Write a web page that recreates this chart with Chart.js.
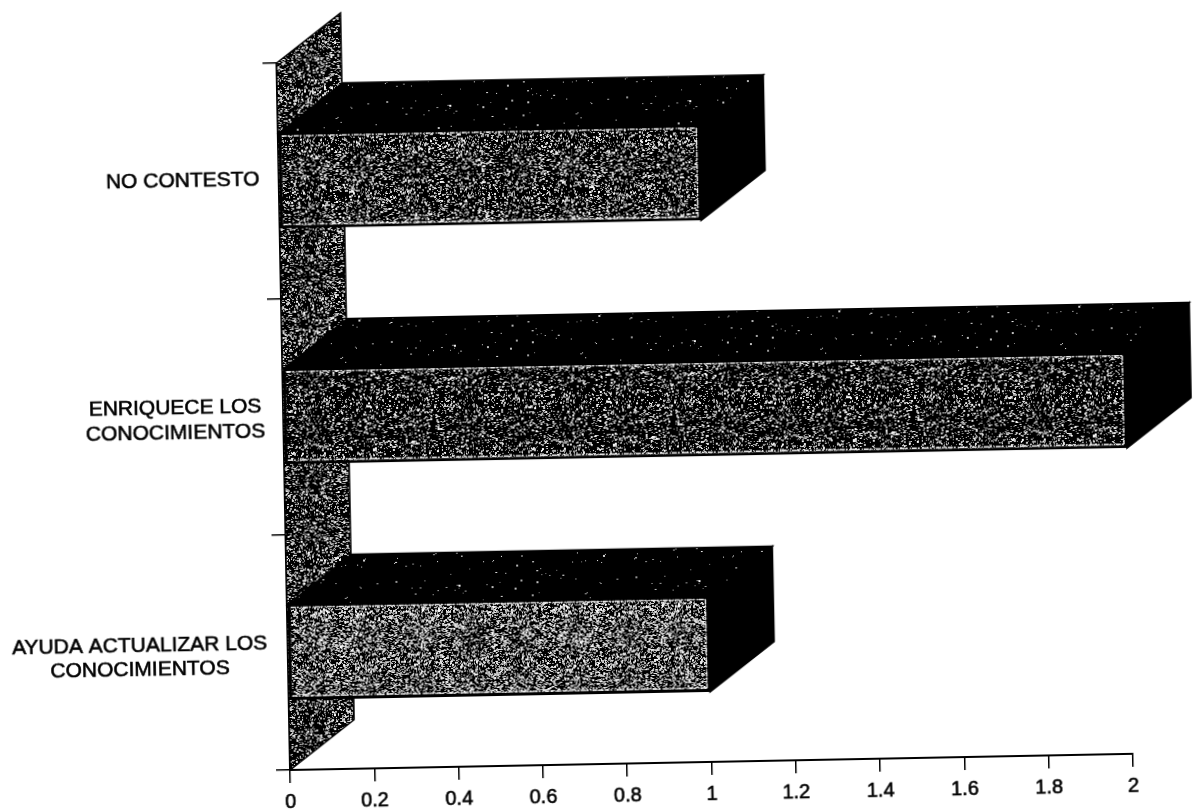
<!DOCTYPE html>
<html>
<head>
<meta charset="utf-8">
<style>
html,body{margin:0;padding:0;background:#fff;width:1194px;height:810px;overflow:hidden}
#wrap{position:absolute;left:0;top:0;width:1240px;height:840px;transform-origin:290px 768px;transform:rotate(-1.1deg)}
canvas{display:block}
</style>
<script src="https://cdn.jsdelivr.net/npm/chart.js@4"></script>
</head>
<body>
<div id="wrap"><canvas id="c" width="1240" height="840"></canvas></div>
<script>
const categories = ["NO CONTESTO", ["ENRIQUECE LOS", "CONOCIMIENTOS"], ["AYUDA ACTUALIZAR LOS", "CONOCIMIENTOS"]];
const values = [1, 2, 1];
const axisMax = 2;
const axisStep = 0.2;

const DEPTH_X = 65, DEPTH_Y = -49;
const labelCenters = [194, 182, 142];
const labelShiftY = [-2, 2, 3];

// Scanned halftone surface texture (fixed pseudo-noise, decoration only, no data)
function texture(density, seed) {
  const size = 240, cv = document.createElement('canvas');
  cv.width = cv.height = size;
  const g = cv.getContext('2d');
  g.fillStyle = '#000'; g.fillRect(0, 0, size, size);
  let s = seed >>> 0;
  const next = () => { s = (Math.imul(s, 1664525) + 1013904223) >>> 0; return (s >>> 8) / 16777216; };
  for (let y = 0; y < size; y++) for (let x = 0; x < size; x++) {
    if (next() < density) {
      const v = 130 + Math.floor(next() * 125);
      g.fillStyle = `rgb(${v},${v},${v})`;
      const r = next();
      g.fillRect(x, y, r > 0.6 ? 2 : 1, r > 0.8 ? 2 : 1);
    }
  }
  return g.createPattern(cv, 'repeat');
}
const ctx0 = document.getElementById('c').getContext('2d');
const frontFill = [texture(0.19, 11), texture(0.15, 23), texture(0.30, 37)];
const wallFill = texture(0.2, 51);
const topFill = texture(0.007, 71);

function poly(ctx, pts, fill, stroke) {
  ctx.beginPath();
  pts.forEach((p, i) => i ? ctx.lineTo(p[0], p[1]) : ctx.moveTo(p[0], p[1]));
  ctx.closePath();
  ctx.fillStyle = fill; ctx.fill();
  ctx.strokeStyle = stroke; ctx.lineWidth = 1.5; ctx.stroke();
}

const depthPlugin = {
  id: 'depth',
  beforeDraw(chart) {
    const yScale = chart.scales.y;
    yScale.getLabelItems().forEach((it, i) => {
      if (it._moved) return;
      it._moved = true;
      it.options.translation[0] = labelCenters[i];
      it.options.translation[1] += labelShiftY[i];
      it.options.textAlign = 'center';
    });
  },
  beforeDatasetsDraw(chart) {
    const { ctx, chartArea: a } = chart;
    ctx.save();
    poly(ctx, [[a.left, a.top], [a.left + DEPTH_X, a.top + DEPTH_Y], [a.left + DEPTH_X, a.bottom + DEPTH_Y], [a.left, a.bottom]], wallFill, '#000');
    chart.getDatasetMeta(0).data.forEach(bar => {
      const p = bar.getProps(['x', 'y', 'base', 'height'], true);
      const t = p.y - p.height / 2, b = p.y + p.height / 2;
      poly(ctx, [[p.base, t], [p.base + DEPTH_X, t + DEPTH_Y], [p.x + DEPTH_X, t + DEPTH_Y], [p.x, t]], topFill, '#000');
      poly(ctx, [[p.x, t], [p.x + DEPTH_X, t + DEPTH_Y], [p.x + DEPTH_X, b + DEPTH_Y], [p.x, b]], '#000', '#000');
    });
    ctx.restore();
  },
  afterDatasetsDraw(chart) {
    const { ctx } = chart;
    ctx.save();
    ctx.strokeStyle = '#e8e8e8';
    ctx.lineWidth = 1.5;
    ctx.setLineDash([5, 1, 2, 2, 1, 1]);
    chart.getDatasetMeta(0).data.forEach(bar => {
      const p = bar.getProps(['x', 'y', 'base', 'height'], true);
      const t = p.y - p.height / 2 + 3;
      ctx.beginPath(); ctx.moveTo(p.base + 3, t); ctx.lineTo(p.x - 3, t); ctx.stroke();
      const b = p.y + p.height / 2 - 4;
      ctx.beginPath(); ctx.moveTo(p.base + 3, b); ctx.lineTo(p.x - 3, b); ctx.stroke();
      ctx.beginPath(); ctx.moveTo(p.x - 3, t); ctx.lineTo(p.x - 3, b); ctx.stroke();
    });
    ctx.restore();
  }
};

new Chart(ctx0, {
  type: 'bar',
  data: {
    labels: categories,
    datasets: [{
      data: values,
      backgroundColor: frontFill,
      borderColor: '#000',
      borderWidth: 3,
      borderSkipped: false,
      barPercentage: 0.405,
      categoryPercentage: 1
    }]
  },
  plugins: [depthPlugin],
  options: {
    indexAxis: 'y',
    responsive: false,
    animation: false,
    layout: { padding: { left: 0, top: 63, right: 107, bottom: 0 } },
    plugins: { legend: { display: false }, title: { display: false }, tooltip: { enabled: false } },
    scales: {
      x: {
        min: 0, max: axisMax,
        afterFit(s) { s.height = 840 - 770; },
        ticks: {
          stepSize: axisStep,
          color: '#000',
          padding: 7,
          maxRotation: 0,
          autoSkip: false,
          textStrokeColor: '#000',
          textStrokeWidth: 0.6,
          font: { family: '"Liberation Sans", Arial, sans-serif', size: 20 },
          callback: v => String(Math.round(v * 10) / 10)
        },
        grid: { display: true, drawOnChartArea: false, drawTicks: true, tickLength: 13, color: '#000', lineWidth: 1.5 },
        border: { display: true, color: '#000', width: 2 }
      },
      y: {
        afterFit(s) { s.width = 290; },
        ticks: {
          color: '#000',
          crossAlign: 'center',
          autoSkip: false,
          textStrokeColor: '#000',
          textStrokeWidth: 0.6,
          font: { family: '"Liberation Sans", Arial, sans-serif', size: 21, lineHeight: 1.18 }
        },
        grid: { display: true, drawOnChartArea: false, drawTicks: true, tickLength: 14, color: '#000', lineWidth: 1.5, offset: true },
        border: { display: true, color: '#000', width: 2 }
      }
    }
  }
});
</script>
</body>
</html>
